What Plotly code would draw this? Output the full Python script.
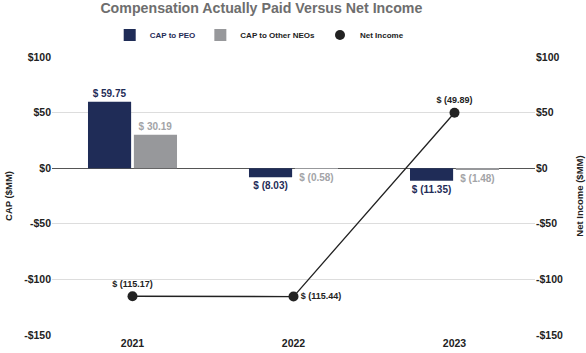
import plotly.graph_objects as go

years = ["2021", "2022", "2023"]
cap_peo = [59.75, -8.03, -11.35]
cap_other = [30.19, -0.58, -1.48]
net_income = [-115.17, -115.44, 49.89]
cap_peo_labels = ["$ 59.75", "$ (8.03)", "$ (11.35)"]
cap_other_labels = ["$ 30.19", "$ (0.58)", "$ (1.48)"]
net_income_labels = ["$ (115.17)", "$ (115.44)", "$ (49.89)"]
tick_vals = [100, 50, 0, -50, -100, -150]
tick_text = ["$100", "$50", "$0", "-$50", "-$100", "-$150"]

NAVY = "#1f2c57"
GRAY = "#97989b"
LBLGRAY = "#a3a4a7"
DARK = "#222222"
FONT = "Liberation Sans"

fig = go.Figure()
fig.add_trace(go.Bar(
    x=years, y=cap_peo, name="<span style='color:#1f2c57'>CAP to PEO</span>",
    marker=dict(color=NAVY, line=dict(width=0)),
    text=cap_peo_labels, textposition="outside",
    textfont=dict(color=NAVY, size=10, family=FONT, weight="bold"),
    cliponaxis=False,
))
fig.add_trace(go.Bar(
    x=years, y=cap_other, name="CAP to Other NEOs",
    marker=dict(color=GRAY, line=dict(width=0)),
    text=cap_other_labels, textposition="outside",
    textfont=dict(color=LBLGRAY, size=10, family=FONT, weight="bold"),
    cliponaxis=False,
))
fig.add_trace(go.Scatter(
    x=years, y=net_income, yaxis="y2", mode="lines+markers+text",
    line=dict(color=DARK, width=1.3), marker=dict(color=DARK, size=10),
    text=net_income_labels,
    textposition=["top center", "middle right", "top center"],
    textfont=dict(color=DARK, size=9, family=FONT, weight="bold"),
    showlegend=False, cliponaxis=False,
))
fig.add_trace(go.Scatter(
    x=[None], y=[None], mode="markers", name="Net Income",
    marker=dict(color=DARK, size=10), yaxis="y2",
))

axis_common = dict(
    range=[-150, 100], tickvals=tick_vals, ticktext=tick_text,
    showgrid=True, gridcolor="#dddddd", gridwidth=1,
    zeroline=True, zerolinecolor="#555555", zerolinewidth=1,
    tickfont=dict(color=DARK, size=10.5, family=FONT, weight="bold"),
    ticks="", fixedrange=True, automargin=False,
)

fig.update_layout(
    width=586, height=353,
    margin=dict(l=52, r=51, t=57, b=18),
    paper_bgcolor="white", plot_bgcolor="white",
    font=dict(family=FONT, color=DARK),
    title=dict(text="Compensation Actually Paid Versus Net Income",
               x=0.446, xanchor="center", y=0.99, yanchor="top",
               font=dict(size=14.2, color="#6e6e6e", family=FONT, weight="bold")),
    barmode="group", bargap=0.43, bargroupgap=0.06,
    legend=dict(orientation="h", x=0.429, xanchor="center", y=1.079, yanchor="middle",
                font=dict(size=8, color=DARK, family=FONT, weight="bold"),
                itemwidth=30, tracegroupgap=0),
    xaxis=dict(tickfont=dict(color=DARK, size=10.5, family=FONT, weight="bold"),
               showgrid=False, ticks="", fixedrange=True, automargin=False),
    yaxis=dict(title=dict(text="CAP ($MM)", standoff=9,
                          font=dict(size=9.5, color=DARK, family=FONT, weight="bold")),
               **axis_common),
    yaxis2=dict(overlaying="y", side="right",
                title=dict(text="Net Income ($MM)", standoff=14,
                           font=dict(size=9.5, color=DARK, family=FONT, weight="bold")),
                **axis_common),
    hovermode=False,
)

fig.write_html("out.html")
